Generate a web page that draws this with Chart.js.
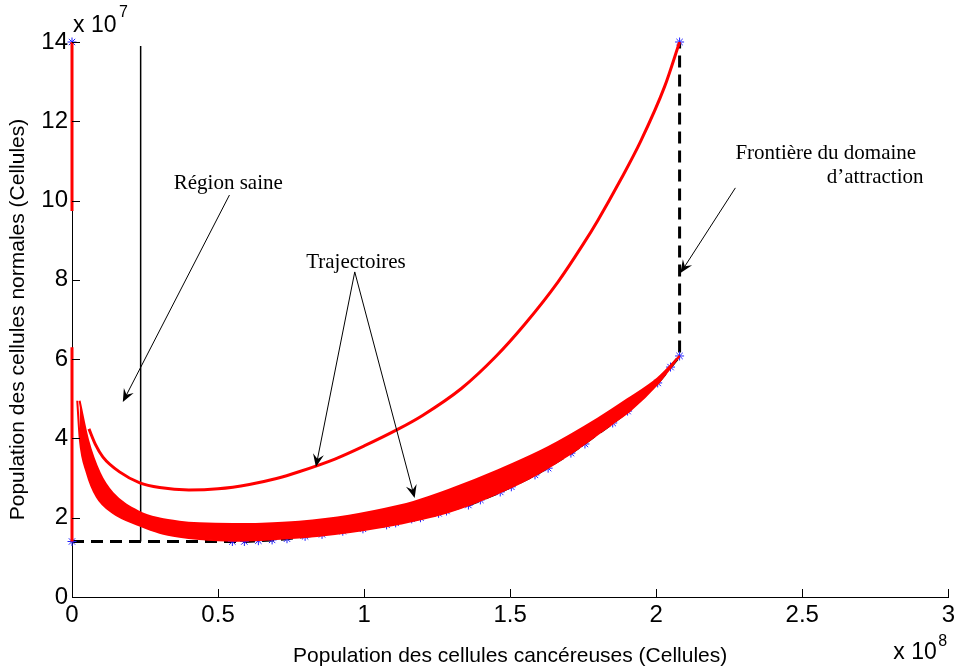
<!DOCTYPE html>
<html>
<head>
<meta charset="utf-8">
<script src="https://cdn.jsdelivr.net/npm/chart.js@4.4.0/dist/chart.umd.min.js"></script>
<style>
html, body { margin: 0; padding: 0; background: #fff; }
#wrap { width: 959px; height: 669px; }
</style>
</head>
<body>
<div id="wrap"><canvas id="myChart" width="959" height="669"></canvas></div>
<script>
// axis ticks (x in 1e8 cells, y in 1e7 cells)
const xTickValues = [0, 0.5, 1, 1.5, 2, 2.5, 3];
const yTickValues = [0, 2, 4, 6, 8, 10, 12, 14];

// red trajectories along x = 0
const axisTopX = [0, 0];
const axisTopY = [14, 9.74];
const axisLowX = [0, 0];
const axisLowY = [6.3, 1.4];

// thick bundle of trajectories: lower and upper edges
const bandLowerX = [0.018, 0.027, 0.051, 0.085, 0.140, 0.232, 0.30, 0.368, 0.436, 0.50, 0.549, 0.65, 0.777, 0.90, 1.0, 1.118, 1.289, 1.459, 1.585, 1.708, 1.851, 1.913, 2.005, 2.08];
const bandLowerY = [4.95, 3.96, 3.13, 2.52, 2.12, 1.80, 1.62, 1.52, 1.46, 1.43, 1.42, 1.44, 1.50, 1.59, 1.69, 1.84, 2.14, 2.62, 3.07, 3.62, 4.38, 4.72, 5.38, 6.08];
const bandUpperX = [0.026, 0.055, 0.095, 0.140, 0.232, 0.30, 0.368, 0.436, 0.549, 0.65, 0.777, 0.948, 1.118, 1.169, 1.289, 1.459, 1.63, 1.80, 1.902, 2.005, 2.08];
const bandUpperY = [4.95, 3.96, 3.13, 2.62, 2.14, 1.98, 1.90, 1.86, 1.84, 1.85, 1.90, 2.05, 2.30, 2.40, 2.70, 3.20, 3.78, 4.50, 4.99, 5.52, 6.08];

// single upper trajectory
const trajX = [0.058, 0.08, 0.106, 0.164, 0.232, 0.30, 0.40, 0.5, 0.607, 0.7, 0.777, 0.9, 1.0, 1.118, 1.2, 1.333, 1.45, 1.55, 1.664, 1.75, 1.80, 1.88, 1.947, 2.029, 2.08];
const trajY = [4.24, 3.85, 3.53, 3.15, 2.88, 2.76, 2.70, 2.73, 2.84, 2.99, 3.16, 3.48, 3.81, 4.24, 4.58, 5.26, 6.06, 6.88, 7.95, 8.9, 9.5, 10.55, 11.5, 12.88, 14.0];

// boundary of the domain of attraction (dashed)
const boundX = [0, 0.549, 0.59, 0.638, 0.685, 0.736, 0.798, 0.856, 0.927, 0.996, 1.077, 1.163, 1.255, 1.357, 1.466, 1.585, 1.708, 1.851, 1.902, 2.005, 2.049, 2.08, 2.08];
const boundY = [1.4, 1.40, 1.40, 1.42, 1.44, 1.47, 1.53, 1.58, 1.66, 1.72, 1.82, 1.97, 2.11, 2.32, 2.65, 3.08, 3.63, 4.39, 4.69, 5.40, 5.80, 6.08, 14];

// blue star markers
const starX = [0, 0, 2.08, 2.08, 0.549, 0.59, 0.638, 0.685, 0.736, 0.798, 0.856, 0.927, 0.996, 1.077, 1.108, 1.163, 1.193, 1.255, 1.282, 1.357, 1.398, 1.466, 1.504, 1.585, 1.630, 1.708, 1.756, 1.851, 1.902, 2.005, 2.049];
const starY = [14, 1.4, 14, 6.08, 1.40, 1.40, 1.42, 1.44, 1.47, 1.53, 1.58, 1.66, 1.72, 1.82, 1.87, 1.97, 2.00, 2.11, 2.17, 2.32, 2.45, 2.65, 2.78, 3.08, 3.25, 3.63, 3.86, 4.39, 4.69, 5.40, 5.80];

// healthy region limit
const healthyX = [0.235, 0.235];
const healthyY = [1.4, 13.9];

function pts(xs, ys) {
    return xs.map((x, i) => ({x: x, y: ys[i]}));
}

const RED = '#ff0000';
const SANS = '"Liberation Sans", Arial, Helvetica, sans-serif';
const SERIF = '"Liberation Serif", "Times New Roman", serif';

// annotations (data coordinates)
const notes = [
    {text: 'Région saine', x: 0.535, y: 10.42, align: 'center'},
    {text: 'Trajectoires', x: 0.972, y: 8.45, align: 'center'},
    {text: 'Frontière du domaine', x: 2.271, y: 11.18, align: 'left'},
    {text: 'd\u2019attraction', x: 2.915, y: 10.57, align: 'right'}
];
const arrows = [
    {from: [0.539, 10.14], to: [0.174, 4.92]},
    {from: [0.968, 8.20], to: [0.835, 3.28]},
    {from: [0.968, 8.20], to: [1.173, 2.50]},
    {from: [2.271, 10.32], to: [2.083, 8.17]}
];

function drawArrow(ctx, x1, y1, x2, y2) {
    var dx = x2 - x1, dy = y2 - y1;
    var len = Math.sqrt(dx * dx + dy * dy);
    var ux = dx / len, uy = dy / len;
    var nx = -uy, ny = ux;
    var L = 13, W = 5.5;
    ctx.beginPath();
    ctx.moveTo(x1, y1);
    ctx.lineTo(x2 - ux * L * 0.6, y2 - uy * L * 0.6);
    ctx.stroke();
    ctx.beginPath();
    ctx.moveTo(x2, y2);
    ctx.lineTo(x2 - ux * L + nx * W, y2 - uy * L + ny * W);
    ctx.lineTo(x2 - ux * L * 0.62, y2 - uy * L * 0.62);
    ctx.lineTo(x2 - ux * L - nx * W, y2 - uy * L - ny * W);
    ctx.closePath();
    ctx.fill();
}

const matlabLook = {
    id: 'matlabLook',
    beforeDraw(chart) {
        const ctx = chart.ctx;
        ctx.save();
        ctx.fillStyle = '#fff';
        ctx.fillRect(0, 0, chart.width, chart.height);
        ctx.restore();
    },
    afterDraw(chart) {
        const ctx = chart.ctx;
        const xs = chart.scales.x, ys = chart.scales.y;
        const area = chart.chartArea;
        ctx.save();
        // inward tick marks
        ctx.strokeStyle = '#000';
        ctx.lineWidth = 1;
        ctx.beginPath();
        xTickValues.forEach(v => {
            const px = Math.round(xs.getPixelForValue(v)) + 0.5;
            ctx.moveTo(px, area.bottom);
            ctx.lineTo(px, area.bottom - 8);
        });
        yTickValues.forEach(v => {
            const py = Math.round(ys.getPixelForValue(v)) + 0.5;
            ctx.moveTo(area.left, py);
            ctx.lineTo(area.left + 8, py);
        });
        ctx.stroke();

        // exponent labels
        ctx.fillStyle = '#000';
        ctx.textBaseline = 'middle';
        ctx.textAlign = 'left';
        ctx.font = '23px ' + SANS;
        ctx.fillText('x 10', area.left + 1, area.top - 16);
        ctx.fillText('x 10', area.right - 55, area.bottom + 56);
        ctx.font = '16px ' + SANS;
        ctx.fillText('7', area.left + 47, area.top - 29);
        ctx.fillText('8', area.right - 10, area.bottom + 45);

        // annotation texts
        ctx.font = '21px ' + SERIF;
        notes.forEach(n => {
            ctx.textAlign = n.align;
            ctx.fillText(n.text, xs.getPixelForValue(n.x), ys.getPixelForValue(n.y));
        });

        // arrows
        ctx.strokeStyle = '#000';
        ctx.fillStyle = '#000';
        ctx.lineWidth = 1;
        arrows.forEach(a => {
            drawArrow(ctx,
                xs.getPixelForValue(a.from[0]), ys.getPixelForValue(a.from[1]),
                xs.getPixelForValue(a.to[0]), ys.getPixelForValue(a.to[1]));
        });
        ctx.restore();
    }
};

var myChart = document.getElementById('myChart').getContext('2d');

var phaseChart = new Chart(myChart, {
    type: 'scatter',
    data: {
        datasets: [
            {
                label: 'band upper',
                data: pts(bandUpperX, bandUpperY),
                showLine: true,
                borderColor: RED,
                backgroundColor: RED,
                borderWidth: 2,
                pointRadius: 0,
                cubicInterpolationMode: 'monotone',
                fill: 1,
                order: 1
            },
            {
                label: 'band lower',
                data: pts(bandLowerX, bandLowerY),
                showLine: true,
                borderColor: RED,
                borderWidth: 2,
                pointRadius: 0,
                cubicInterpolationMode: 'monotone',
                fill: false,
                order: 1
            },
            {
                label: 'trajectory',
                data: pts(trajX, trajY),
                showLine: true,
                borderColor: RED,
                borderWidth: 3,
                pointRadius: 0,
                cubicInterpolationMode: 'monotone',
                fill: false,
                order: 1
            },
            {
                label: 'axis top',
                data: pts(axisTopX, axisTopY),
                showLine: true,
                borderColor: RED,
                borderWidth: 3,
                pointRadius: 0,
                clip: false,
                order: 2
            },
            {
                label: 'axis low',
                data: pts(axisLowX, axisLowY),
                showLine: true,
                borderColor: RED,
                borderWidth: 3,
                pointRadius: 0,
                clip: false,
                order: 2
            },
            {
                label: 'healthy limit',
                data: pts(healthyX, healthyY),
                showLine: true,
                borderColor: '#000',
                borderWidth: 1.5,
                pointRadius: 0,
                order: 3
            },
            {
                label: 'stars',
                data: pts(starX, starY),
                showLine: false,
                pointStyle: 'star',
                pointRadius: 4.5,
                borderColor: '#2020ff',
                backgroundColor: '#2020ff',
                pointBorderWidth: 1,
                clip: false,
                order: 4
            },
            {
                label: 'boundary',
                data: pts(boundX, boundY),
                showLine: true,
                borderColor: '#000',
                borderWidth: 3,
                borderDash: [12, 7],
                pointRadius: 0,
                tension: 0,
                clip: false,
                order: 5
            }
        ]
    },
    options: {
        responsive: false,
        animation: false,
        events: [],
        layout: { padding: { left: 0, right: 7, top: 42, bottom: 0 } },
        plugins: {
            legend: { display: false },
            tooltip: { enabled: false }
        },
        scales: {
            x: {
                type: 'linear',
                min: 0,
                max: 3,
                afterBuildTicks: s => { s.ticks = xTickValues.map(v => ({value: v})); },
                afterFit: s => { s.height = 72; },
                ticks: {
                    color: '#000',
                    font: { family: SANS, size: 24 },
                    padding: 4,
                    maxRotation: 0,
                    autoSkip: false,
                    callback: v => String(v)
                },
                grid: { drawOnChartArea: false, drawTicks: false },
                border: { color: '#000', width: 1 },
                title: {
                    display: true,
                    text: 'Population des cellules cancéreuses (Cellules)',
                    color: '#000',
                    font: { family: SANS, size: 21 },
                    padding: { top: 0, bottom: 0 }
                }
            },
            y: {
                type: 'linear',
                min: 0,
                max: 14,
                afterBuildTicks: s => { s.ticks = yTickValues.map(v => ({value: v})); },
                afterFit: s => { s.width = 72; },
                ticks: {
                    color: '#000',
                    font: { family: SANS, size: 24 },
                    padding: 4,
                    callback: v => String(v)
                },
                grid: { drawOnChartArea: false, drawTicks: false },
                border: { color: '#000', width: 1 },
                title: {
                    display: true,
                    text: 'Population des cellules normales (Cellules)',
                    color: '#000',
                    font: { family: SANS, size: 21 },
                    padding: { top: 6, bottom: 0 }
                }
            }
        }
    },
    plugins: [matlabLook]
});
</script>
</body>
</html>
